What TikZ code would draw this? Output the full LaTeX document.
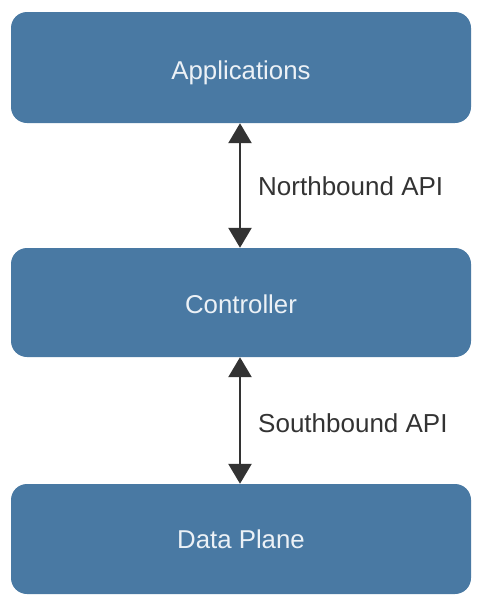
\documentclass[tikz,border=0pt]{standalone}
\usepackage{fontspec}
\setmainfont{Liberation Sans}
\usetikzlibrary{arrows.meta}
\definecolor{boxblue}{RGB}{73,121,163}
\definecolor{boxtext}{RGB}{236,241,246}
\definecolor{arrgray}{RGB}{51,51,51}
\tikzset{
  layerbox/.style={draw=none, fill=boxblue, rounded corners=16pt, minimum width=460pt, inner sep=0pt},
  boxlabel/.style={text=boxtext, font=\fontsize{25.8}{30}\selectfont, anchor=base, inner sep=0pt},
  apiarrow/.style={draw=arrgray, line width=2.6pt, {Triangle[width=23pt,length=20pt]}-{Triangle[width=23pt,length=20pt]}},
  apilabel/.style={anchor=base west, text=arrgray, font=\fontsize{26}{30}\selectfont, inner sep=0pt}
}
\begin{document}
\begin{tikzpicture}[x=1pt,y=-1pt]
\useasboundingbox (0,0) rectangle (480,600);
\node[layerbox, minimum height=111pt] (app) at (241,67.5) {};
\node[layerbox, minimum height=109pt] (ctl) at (241,302.5) {};
\node[layerbox, minimum height=110pt] (dp) at (241,539) {};
\node[boxlabel] (appt) at (241,79) {Applications};
\node[boxlabel] (ctlt) at (241,313) {Controller};
\node[boxlabel] (dpt) at (241,548) {Data Plane};
\draw[apiarrow] (app.south -| 240,0) -- (ctl.north -| 240,0);
\draw[apiarrow] (ctl.south -| 240,0) -- (dp.north -| 240,0);
\node[apilabel] (nb) at (258,195) {Northbound API};
\node[apilabel] (sb) at (258,432) {Southbound API};
\end{tikzpicture}
\end{document}
